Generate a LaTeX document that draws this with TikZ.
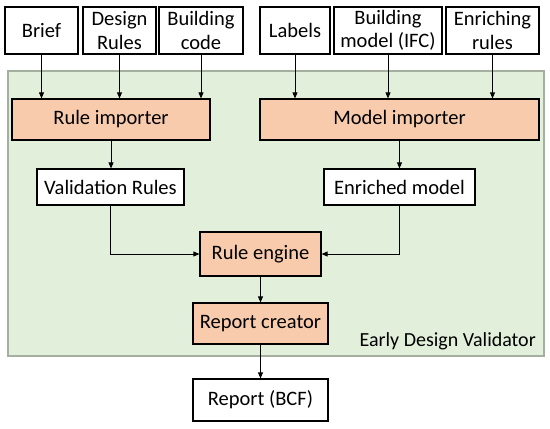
\documentclass[tikz,border=0pt]{standalone}
\usepackage{fontspec}
\setmainfont{Carlito}
\usepackage{tikz}
\usetikzlibrary{arrows.meta, positioning}
\usepackage{xcolor}
\definecolor{validgreen}{RGB}{226,239,218}
\definecolor{validframe}{RGB}{165,175,160}
\definecolor{stepfill}{RGB}{248,203,173}

\begin{document}
\begin{tikzpicture}[
    x=1pt, y=-1pt,
    inbox/.style={rectangle, draw, line width=1.2pt, fill=white, align=center, font=\fontsize{20.5}{23.5}\selectfont, minimum height=47pt, inner sep=1pt},
    wbox/.style={rectangle, draw, line width=1.2pt, fill=white, align=center, font=\fontsize{20.5}{23}\selectfont, minimum height=36pt},
    proc/.style={rectangle, draw, line width=1.2pt, fill=stepfill, align=center, font=\fontsize{20.5}{23}\selectfont, minimum height=41pt},
    arrow/.style={-{Triangle[length=6pt, width=5pt]}, line width=0.8pt}
]
    \useasboundingbox (0,0) rectangle (550,429);

    % Validator frame
    \draw[fill=validgreen, draw=validframe, line width=1.2pt] (8,71) rectangle (544,356);
    \node[anchor=south east, font=\fontsize{20}{23}\selectfont, inner sep=0pt] (edv) at (536,350) {Early Design Validator};

    % Inputs
    \node[inbox, minimum width=73pt] (brief) at (41.5,30.5) {Brief};
    \node[inbox, minimum width=73pt] (drules) at (119.5,30.5) {Design\\Rules};
    \node[inbox, minimum width=84pt] (bcode) at (201,30.5) {Building\\code};
    \node[inbox, minimum width=70pt] (labels) at (295,30.5) {Labels};
    \node[inbox, minimum width=108pt] (bmodel) at (388,30.5) {Building\\model (IFC)};
    \node[inbox, minimum width=93pt] (erules) at (492.5,30.5) {Enriching\\rules};

    % Importers
    \node[proc, minimum width=198pt] (ruleimp) at (111,119.5) {Rule importer};
    \node[proc, minimum width=279pt] (modelimp) at (399.5,119.5) {Model importer};

    % Intermediate results
    \node[wbox, minimum width=147pt] (valrules) at (110.5,187) {Validation Rules};
    \node[wbox, minimum width=151pt] (enrmodel) at (399.5,187) {Enriched model};

    % Engine and report
    \node[proc, minimum width=121pt, minimum height=44pt] (engine) at (260.5,254) {Rule engine};
    \node[proc, minimum width=135pt] (creator) at (260.5,323.5) {Report creator};
    \node[wbox, minimum width=135pt, minimum height=42pt] (report) at (260.5,400) {Report (BCF)};

    % Arrows
    \foreach \src in {brief, drules, bcode}
        \draw[arrow] (\src.south) -- (\src.south |- ruleimp.north);
    \foreach \src in {labels, bmodel, erules}
        \draw[arrow] (\src.south) -- (\src.south |- modelimp.north);
    \draw[arrow] (ruleimp.south) -- (ruleimp.south |- valrules.north);
    \draw[arrow] (modelimp.south) -- (modelimp.south |- enrmodel.north);
    \draw[arrow] (valrules.south) |- (engine.west);
    \draw[arrow] (enrmodel.south) |- (engine.east);
    \draw[arrow] (engine.south) -- (creator.north);
    \draw[arrow] (creator.south) -- (report.north);
\end{tikzpicture}
\end{document}
